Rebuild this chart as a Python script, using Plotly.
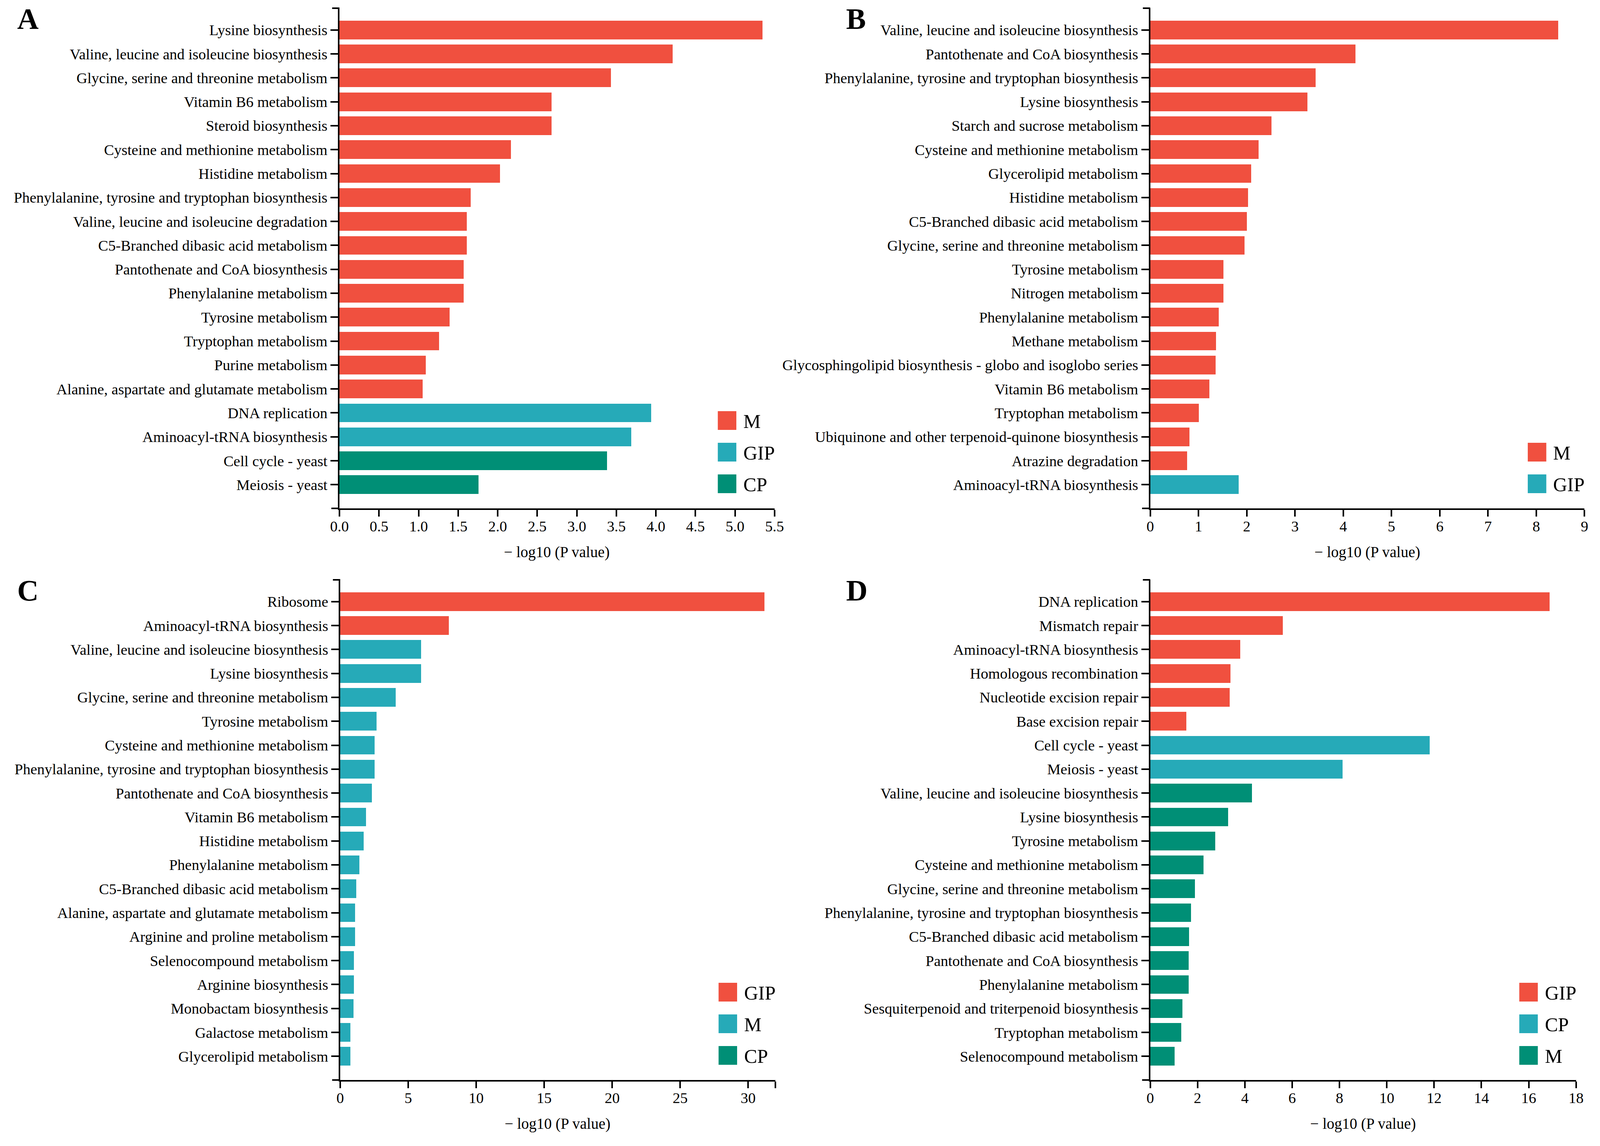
import plotly.graph_objects as go

W, H = 4113, 2935
RED = "#F0503F"
TEAL = "#26AAB8"
GREEN = "#008F76"
FONT = "Liberation Serif, Times New Roman, serif"

# ---- panel A ----
a_names = ["Lysine biosynthesis", "Valine, leucine and isoleucine biosynthesis",
           "Glycine, serine and threonine metabolism", "Vitamin B6 metabolism",
           "Steroid biosynthesis", "Cysteine and methionine metabolism",
           "Histidine metabolism", "Phenylalanine, tyrosine and tryptophan biosynthesis",
           "Valine, leucine and isoleucine degradation", "C5-Branched dibasic acid metabolism",
           "Pantothenate and CoA biosynthesis", "Phenylalanine metabolism",
           "Tyrosine metabolism", "Tryptophan metabolism", "Purine metabolism",
           "Alanine, aspartate and glutamate metabolism", "DNA replication",
           "Aminoacyl-tRNA biosynthesis", "Cell cycle - yeast", "Meiosis - yeast"]
a_values = [5.35, 4.21, 3.43, 2.68, 2.68, 2.17, 2.03, 1.66, 1.61, 1.61,
            1.57, 1.57, 1.39, 1.26, 1.09, 1.05, 3.94, 3.69, 3.38, 1.76]
a_groups = ["M", "M", "M", "M", "M", "M", "M", "M", "M", "M",
            "M", "M", "M", "M", "M", "M", "GIP", "GIP", "CP", "CP"]
a_legend = ["M", "GIP", "CP"]
a_ticks = [0, 0.5, 1, 1.5, 2, 2.5, 3, 3.5, 4, 4.5, 5, 5.5]
a_ticktext = ["0.0", "0.5", "1.0", "1.5", "2.0", "2.5", "3.0", "3.5", "4.0", "4.5", "5.0", "5.5"]

# ---- panel B ----
b_names = ["Valine, leucine and isoleucine biosynthesis", "Pantothenate and CoA biosynthesis",
           "Phenylalanine, tyrosine and tryptophan biosynthesis", "Lysine biosynthesis",
           "Starch and sucrose metabolism", "Cysteine and methionine metabolism",
           "Glycerolipid metabolism", "Histidine metabolism",
           "C5-Branched dibasic acid metabolism", "Glycine, serine and threonine metabolism",
           "Tyrosine metabolism", "Nitrogen metabolism", "Phenylalanine metabolism",
           "Methane metabolism", "Glycosphingolipid biosynthesis - globo and isoglobo series",
           "Vitamin B6 metabolism", "Tryptophan metabolism",
           "Ubiquinone and other terpenoid-quinone biosynthesis", "Atrazine degradation",
           "Aminoacyl-tRNA biosynthesis"]
b_values = [8.45, 4.25, 3.42, 3.25, 2.51, 2.24, 2.09, 2.02, 2.00, 1.95,
            1.51, 1.51, 1.42, 1.36, 1.35, 1.22, 1.00, 0.81, 0.76, 1.83]
b_groups = ["M", "M", "M", "M", "M", "M", "M", "M", "M", "M",
            "M", "M", "M", "M", "M", "M", "M", "M", "M", "GIP"]
b_legend = ["M", "GIP"]
b_ticks = [0, 1, 2, 3, 4, 5, 6, 7, 8, 9]
b_ticktext = ["0", "1", "2", "3", "4", "5", "6", "7", "8", "9"]

# ---- panel C ----
c_names = ["Ribosome", "Aminoacyl-tRNA biosynthesis",
           "Valine, leucine and isoleucine biosynthesis", "Lysine biosynthesis",
           "Glycine, serine and threonine metabolism", "Tyrosine metabolism",
           "Cysteine and methionine metabolism",
           "Phenylalanine, tyrosine and tryptophan biosynthesis",
           "Pantothenate and CoA biosynthesis", "Vitamin B6 metabolism",
           "Histidine metabolism", "Phenylalanine metabolism",
           "C5-Branched dibasic acid metabolism",
           "Alanine, aspartate and glutamate metabolism", "Arginine and proline metabolism",
           "Selenocompound metabolism", "Arginine biosynthesis", "Monobactam biosynthesis",
           "Galactose metabolism", "Glycerolipid metabolism"]
c_values = [31.2, 8.0, 5.95, 5.95, 4.09, 2.68, 2.53, 2.53, 2.34, 1.90,
            1.71, 1.41, 1.19, 1.08, 1.08, 1.00, 1.00, 0.97, 0.74, 0.74]
c_groups = ["GIP", "GIP", "M", "M", "M", "M", "M", "M", "M", "M",
            "M", "M", "M", "M", "M", "M", "M", "M", "M", "M"]
c_legend = ["GIP", "M", "CP"]
c_ticks = [0, 5, 10, 15, 20, 25, 30, 32]
c_ticktext = ["0", "5", "10", "15", "20", "25", "30", ""]

# ---- panel D ----
d_names = ["DNA replication", "Mismatch repair", "Aminoacyl-tRNA biosynthesis",
           "Homologous recombination", "Nucleotide excision repair", "Base excision repair",
           "Cell cycle - yeast", "Meiosis - yeast",
           "Valine, leucine and isoleucine biosynthesis", "Lysine biosynthesis",
           "Tyrosine metabolism", "Cysteine and methionine metabolism",
           "Glycine, serine and threonine metabolism",
           "Phenylalanine, tyrosine and tryptophan biosynthesis",
           "C5-Branched dibasic acid metabolism", "Pantothenate and CoA biosynthesis",
           "Phenylalanine metabolism", "Sesquiterpenoid and triterpenoid biosynthesis",
           "Tryptophan metabolism", "Selenocompound metabolism"]
d_values = [16.88, 5.59, 3.79, 3.39, 3.36, 1.52, 11.81, 8.12, 4.29, 3.28,
            2.74, 2.25, 1.89, 1.71, 1.63, 1.61, 1.61, 1.35, 1.31, 1.03]
d_groups = ["GIP", "GIP", "GIP", "GIP", "GIP", "GIP", "CP", "CP", "M", "M",
            "M", "M", "M", "M", "M", "M", "M", "M", "M", "M"]
d_legend = ["GIP", "CP", "M"]
d_ticks = [0, 2, 4, 6, 8, 10, 12, 14, 16, 18]
d_ticktext = ["0", "2", "4", "6", "8", "10", "12", "14", "16", "18"]

panel_colors = [RED, TEAL, GREEN]

# pixel geometry of each panel: y-axis x, axis end x, top y, x-axis y
panels = [
    ("A", a_names, a_values, a_groups, a_legend, a_ticks, a_ticktext, 5.5, 855, 1982, 21, 1302),
    ("B", b_names, b_values, b_groups, b_legend, b_ticks, b_ticktext, 9, 2955, 4080, 21, 1302),
    ("C", c_names, c_values, c_groups, c_legend, c_ticks, c_ticktext, 32, 857, 1984, 1485, 2766),
    ("D", d_names, d_values, d_groups, d_legend, d_ticks, d_ticktext, 18, 2955, 4058, 1485, 2766),
]


def px(x):
    return x / W


def py(y):
    return 1 - y / H


fig = go.Figure()
shapes = []
annotations = []

for i, (letter, names, values, groups, legend, ticks, ticktext, xmax, x0, x1, ytop, yax) in enumerate(panels):
    k = "" if i == 0 else str(i + 1)
    colmap = {g: panel_colors[j] for j, g in enumerate(legend)}
    fig.add_trace(go.Bar(
        x=values, y=names, orientation="h",
        marker=dict(color=[colmap[g] for g in groups], line=dict(width=0)),
        width=0.78, xaxis="x" + k, yaxis="y" + k, showlegend=False,
    ))
    fig.update_layout(**{
        "xaxis" + k: dict(domain=[px(x0), px(x1)], anchor="y" + k, range=[0, xmax],
                          tickvals=ticks, ticktext=ticktext, ticks="outside", ticklen=17,
                          tickwidth=4, tickcolor="black", showline=True, linewidth=4,
                          linecolor="black", showgrid=False, zeroline=False,
                          ticklabelstandoff=-8,
                          tickfont=dict(size=38.5, color="black", family=FONT)),
        "yaxis" + k: dict(domain=[py(yax), py(ytop)], anchor="x" + k, type="category",
                          categoryorder="array", categoryarray=names,
                          range=[19.99, -0.91], ticks="outside", ticklen=19, tickwidth=4,
                          tickcolor="black", showline=True, linewidth=4, linecolor="black",
                          showgrid=False, zeroline=False,
                          tickfont=dict(size=38.5, color="black", family=FONT)),
    })
    # axis end marks
    shapes.append(dict(type="line", xref="paper", yref="paper",
                       x0=px(x0 - 21), x1=px(x0), y0=py(yax), y1=py(yax),
                       line=dict(color="black", width=4)))
    shapes.append(dict(type="line", xref="paper", yref="paper",
                       x0=px(x0 - 19), x1=px(x0), y0=py(ytop), y1=py(ytop),
                       line=dict(color="black", width=4)))
    # panel letter
    annotations.append(dict(text="<b>%s</b>" % letter, xref="paper", yref="paper",
                            x=px(18 if x0 < 2000 else 2165), y=py(ytop + 27),
                            xanchor="left", yanchor="middle", showarrow=False,
                            font=dict(size=76, color="black", family=FONT)))
    # x title
    annotations.append(dict(text="− log10 (P value)", xref="paper", yref="paper",
                            x=px((x0 + x1) / 2), y=py(yax + 112),
                            xanchor="center", yanchor="middle", showarrow=False,
                            font=dict(size=39, color="black", family=FONT)))
    # legend
    last_c = yax - 63
    n = len(legend)
    for j, g in enumerate(legend):
        cy = last_c - (n - 1 - j) * 81
        sx = x1 - 147
        shapes.append(dict(type="rect", xref="paper", yref="paper",
                           x0=px(sx), x1=px(sx + 48), y0=py(cy + 24), y1=py(cy - 24),
                           fillcolor=colmap[g], line=dict(width=0)))
        annotations.append(dict(text=g, xref="paper", yref="paper",
                                x=px(sx + 64), y=py(cy + 2), xanchor="left", yanchor="middle",
                                showarrow=False,
                                font=dict(size=50, color="black", family=FONT)))

fig.update_layout(width=W, height=H, margin=dict(l=0, r=0, t=0, b=0),
                  paper_bgcolor="white", plot_bgcolor="white",
                  shapes=shapes, annotations=annotations, bargap=0,
                  font=dict(family=FONT, color="black"))

fig.write_html("out.html", config={"displayModeBar": False},
               post_script="document.body.style.margin='0';")
